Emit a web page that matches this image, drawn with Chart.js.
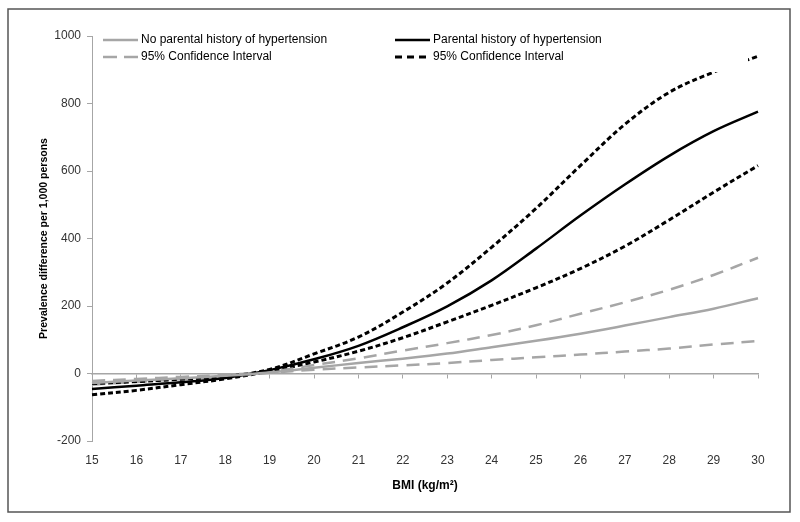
<!DOCTYPE html>
<html>
<head>
<meta charset="utf-8">
<script src="https://cdn.jsdelivr.net/npm/chart.js@4"></script>
<style>
  html, body { margin: 0; padding: 0; background: #fff; }
  #wrap { width: 800px; height: 522px; }
</style>
</head>
<body>
<div id="wrap"><canvas id="myChart" width="800" height="522"></canvas></div>
<script>
"use strict";

// BMI categories (kg/m2)
const bmi = [15, 16, 17, 18, 19, 20, 21, 22, 23, 24, 25, 26, 27, 28, 29, 30];

// prevalence difference per 1,000 persons
const noHistory      = [-28, -21, -14, -7, 3, 17, 31, 44, 59, 78, 97, 118, 142, 167, 192, 223];
const noHistoryUpper = [-22, -16, -10, -4, 5, 25, 45, 68, 90, 114, 143, 177, 211, 248, 292, 343];
const noHistoryLower = [-33, -25, -17, -9, 2, 11, 18, 24, 31, 40, 48, 56, 65, 74, 86, 96];
const history        = [-46, -36, -26, -13, 10, 42, 82, 137, 199, 276, 370, 468, 560, 645, 718, 776];
const historyUpper   = [-30, -24, -17, -9, 12, 58, 108, 182, 268, 374, 489, 616, 738, 833, 893, 940];
const historyLower   = [-63, -50, -33, -16, 7, 34, 66, 106, 153, 202, 254, 311, 377, 455, 537, 616];

const yTicks = [-200, 0, 200, 400, 600, 800, 1000];

const gray = '#a6a6a6';
const black = '#000000';
const font = "'Liberation Sans', Arial, sans-serif";

function line(label, data, color, dash, width, inLegend) {
    return {
        label: label,
        data: data,
        borderColor: color,
        backgroundColor: color,
        borderWidth: width,
        borderDash: dash,
        pointRadius: 0,
        tension: 0.35,
        fill: false,
        inLegend: inLegend
    };
}

// legend drawn as two fixed columns, like the original
const legendBox = {
    id: 'legendBox',
    afterDatasetsDraw(chart) {
        const ctx = chart.ctx;
        ctx.save();
        ctx.fillStyle = '#fff';
        ctx.fillRect(96, 28, 652, 44);
        const slots = [[103, 40], [395, 40], [103, 57], [395, 57]];
        const shown = chart.data.datasets.filter(function (ds) { return ds.inLegend; });
        shown.forEach(function (ds, i) {
            const x = slots[i][0], y = slots[i][1];
            ctx.strokeStyle = ds.borderColor;
            ctx.lineWidth = ds.borderWidth;
            ctx.setLineDash(ds.borderDash.length ? (ds.borderColor === black ? [7, 5] : [14, 7]) : []);
            ctx.beginPath();
            ctx.moveTo(x, y);
            ctx.lineTo(x + 35, y);
            ctx.stroke();
            ctx.setLineDash([]);
            ctx.fillStyle = '#000';
            ctx.font = '12px ' + font;
            ctx.textBaseline = 'middle';
            ctx.fillText(ds.label, x + 38, y);
        });
        ctx.restore();
    }
};

// outer frame
const frame = {
    id: 'frame',
    afterDraw(chart) {
        const ctx = chart.ctx;
        ctx.save();
        ctx.strokeStyle = '#555';
        ctx.lineWidth = 1.5;
        ctx.strokeRect(8, 9, 782, 503);
        ctx.restore();
    }
};

const ctx = document.getElementById('myChart');
const chart = new Chart(ctx, {
    type: 'line',
    data: {
        labels: bmi,
        datasets: [
            line('No parental history of hypertension', noHistory, gray, [], 2.5, true),
            line('Parental history of hypertension', history, black, [], 2.5, true),
            line('95% Confidence Interval', noHistoryUpper, gray, [13, 8], 2.5, true),
            line('95% Confidence Interval', historyUpper, black, [5, 3], 3, true),
            line('95% Confidence Interval', noHistoryLower, gray, [13, 8], 2.5, false),
            line('95% Confidence Interval', historyLower, black, [5, 3], 3, false)
        ]
    },
    options: {
        responsive: false,
        animation: false,
        layout: { padding: { left: 0, top: 36, right: 42, bottom: 0 } },
        plugins: {
            legend: { display: false },
            tooltip: { enabled: false }
        },
        scales: {
            x: {
                type: 'category',
                offset: false,
                grid: { display: false, drawTicks: false },
                border: { display: false },
                ticks: { color: '#333', font: { family: font, size: 12 }, padding: 12, maxRotation: 0, autoSkip: false },
                title: {
                    display: true,
                    text: 'BMI (kg/m²)',
                    color: '#000',
                    font: { family: font, size: 12, weight: 'bold' },
                    padding: { top: 0, bottom: 29 }
                },
                afterFit: function (scale) { scale.height = 81; }
            },
            x2: {
                type: 'category',
                axis: 'x',
                offset: false,
                position: { y: 0 },
                grid: { drawOnChartArea: false, drawTicks: true, tickLength: 4, color: gray },
                border: { display: true, color: gray, width: 1.5 },
                ticks: { display: false, autoSkip: false }
            },
            y: {
                min: -200,
                max: 1000,
                afterBuildTicks: function (scale) {
                    scale.ticks = yTicks.map(function (v) { return { value: v }; });
                },
                grid: { drawOnChartArea: false, drawTicks: true, tickLength: 5, color: gray },
                border: { display: true, color: gray, width: 1 },
                ticks: {
                    color: '#333',
                    font: { family: font, size: 12 },
                    padding: 6,
                    callback: function (v) { return String(v); }
                },
                title: {
                    display: true,
                    text: 'Prevalence difference per 1,000 persons',
                    color: '#000',
                    font: { family: font, size: 10.5, weight: 'bold' },
                    padding: { top: 38, bottom: 0 }
                },
                afterFit: function (scale) { scale.width = 92; }
            }
        }
    },
    plugins: [legendBox, frame]
});
</script>
</body>
</html>
